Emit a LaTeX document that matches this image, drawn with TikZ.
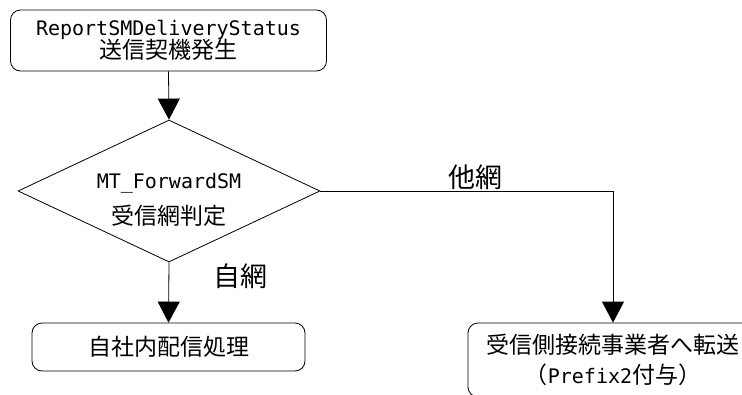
\documentclass[tikz,border=0pt]{standalone}
\usepackage{fontspec}
\setmainfont{Noto Sans CJK JP}
\newfontfamily\monofam{DejaVu Sans Mono}
\usetikzlibrary{shapes.geometric,arrows.meta}
\newcommand{\cj}{\fontsize{23}{27}\selectfont}
\newcommand{\lt}{\monofam\fontsize{20}{27}\selectfont}
\tikzset{
  box/.style={draw, rounded corners=10pt, line width=0.8pt, inner sep=0pt, align=center, font=\cj},
  decision/.style={draw, diamond, shape aspect=2.13, line width=0.8pt, inner sep=0pt},
  txt/.style={inner sep=0pt, align=center, font=\cj},
  flow/.style={line width=0.8pt, -{Triangle[width=22pt,length=21pt]}},
  lbl/.style={inner sep=0pt, font=\fontsize{27}{30}\selectfont}
}
\begin{document}
\begin{tikzpicture}[x=1pt,y=-1pt]
\clip (0,0) rectangle (742,394);
\fill[white] (0,0) rectangle (742,394);
\node[box, minimum width=316pt, minimum height=61pt] (start) at (168.5,40.5)
  {{\lt ReportSMDeliveryStatus}\\[-4pt]送信契機発生};
\node[decision, minimum width=302pt, minimum height=142pt] (judge) at (169,191) {};
\node[txt] (judgetxt) at (169,200) {{\lt MT\_ForwardSM}\\[9pt]受信網判定};
\node[box, minimum width=273pt, minimum height=48pt] (own) at (168.5,347)
  {自社内配信処理};
\node[box, minimum width=290pt, minimum height=74pt] (other) at (613,360)
  {受信側接続事業者へ転送\\[3pt]（{\lt Prefix2}付与）};
\draw[flow] (start.south) -- (judge.north);
\draw[flow] (judge.south) -- (own.north);
\draw[flow] (judge.east) -| (other.north);
\node[lbl] (l1) at (475,177) {他網};
\node[lbl] (l2) at (240,276) {自網};
\end{tikzpicture}
\end{document}
